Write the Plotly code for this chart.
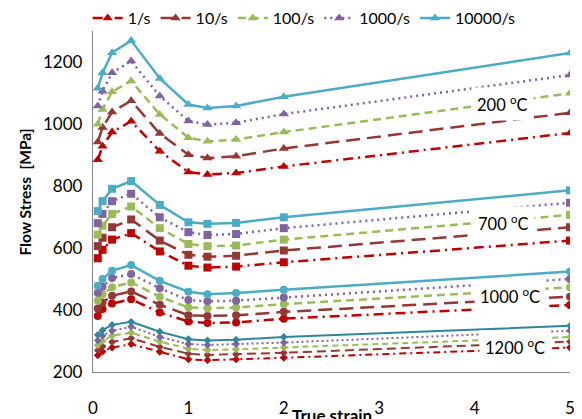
import plotly.graph_objects as go

# ---- data ----
strain = [0.05, 0.1, 0.2, 0.4, 0.7, 1.0, 1.2, 1.5, 2, 5]
rates = ["1/s", "10/s", "100/s", "1000/s", "10000/s"]
temps = ["200", "700", "1000", "1200"]

s200_1 = [885, 928, 974, 1009, 912, 845, 837, 842, 863, 971]
s200_10 = [942, 989, 1039, 1075, 969, 901, 890, 896, 921, 1036]
s200_100 = [999, 1047, 1104, 1139, 1031, 956, 944, 950, 974, 1099]
s200_1000 = [1058, 1106, 1165, 1203, 1090, 1010, 998, 1004, 1032, 1158]
s200_10000 = [1115, 1165, 1230, 1269, 1147, 1063, 1052, 1058, 1088, 1229]

s700_1 = [567, 594, 627, 648, 589, 543, 537, 540, 554, 624]
s700_10 = [606, 633, 667, 692, 624, 578, 572, 575, 592, 667]
s700_100 = [643, 672, 710, 734, 664, 613, 606, 608, 627, 707]
s700_1000 = [680, 710, 751, 775, 699, 651, 642, 645, 664, 746]
s700_10000 = [719, 751, 791, 816, 739, 683, 678, 681, 699, 786]

s1000_1 = [381, 403, 421, 435, 392, 363, 358, 360, 372, 416]
s1000_10 = [405, 424, 446, 460, 417, 383, 381, 383, 394, 443]
s1000_100 = [430, 451, 473, 489, 443, 408, 406, 408, 419, 473]
s1000_1000 = [455, 475, 503, 516, 470, 432, 428, 430, 440, 500]
s1000_10000 = [478, 500, 527, 545, 494, 459, 451, 455, 465, 524]

s1200_1 = [254, 266, 279, 290, 265, 241, 238, 241, 246, 279]
s1200_10 = [270, 282, 297, 309, 281, 259, 255, 257, 262, 298]
s1200_100 = [287, 300, 317, 327, 298, 275, 271, 273, 279, 313]
s1200_1000 = [302, 317, 333, 346, 313, 290, 287, 290, 295, 333]
s1200_10000 = [320, 335, 352, 362, 330, 306, 302, 304, 313, 349]

series = {
    "200": [s200_1, s200_10, s200_100, s200_1000, s200_10000],
    "700": [s700_1, s700_10, s700_100, s700_1000, s700_10000],
    "1000": [s1000_1, s1000_10, s1000_100, s1000_1000, s1000_10000],
    "1200": [s1200_1, s1200_10, s1200_100, s1200_1000, s1200_10000],
}

label_x = [4.29, 4.30, 4.37, 4.42]
label_y = [1064, 682, 446, 281]

y_ticks = [200, 400, 600, 800, 1000, 1200]
x_ticks = [0, 1, 2, 3, 4, 5]

# ---- styles ----
colors = ["#C00000", "#953735", "#9BBB59", "#8064A2", "#4BACC6"]
dashes = ["10px,5px,2px,5px", "14px,7px", "8px,5px", "2px,4px", "solid"]
dashes_small = ["7px,4px,2px,4px", "9px,5px", "6px,4px", "2px,3px", "solid"]
symbols = {"200": "triangle-up", "700": "square", "1000": "circle", "1200": "diamond"}
msize = {"200": 9, "700": 8, "1000": 8, "1200": 6}

FONT = "Lato, Carlito, Calibri, sans-serif"

fig = go.Figure()
for t in temps:
    for i, r in enumerate(rates):
        col = colors[i]
        if t == "1200" and i == 4:
            col = "#31859C"
        small = t == "1200"
        fig.add_trace(go.Scatter(
            x=strain, y=series[t][i], mode="lines+markers",
            name=r, legendgroup=r, showlegend=(t == "200"),
            line=dict(color=col, width=2 if small else 2.5,
                      dash=(dashes_small if small else dashes)[i]),
            marker=dict(symbol=symbols[t], size=msize[t], color=col),
        ))

for k, t in enumerate(temps):
    fig.add_annotation(
        x=label_x[k], y=label_y[k], xref="x", yref="y",
        xanchor="center", yanchor="middle",
        text=t + " <sup>o</sup>C", showarrow=False,
        font=dict(family=FONT, size=16.5, color="#000000"),
        bgcolor="white", borderpad=5,
    )

fig.add_annotation(
    x=0.5, y=-0.128, xref="paper", yref="paper", text="<b>True strain</b>",
    showarrow=False, xanchor="center", yanchor="middle",
    font=dict(family=FONT, size=17, color="#000000"),
)
fig.add_annotation(
    x=-0.1426, y=0.529, xref="paper", yref="paper", text="<b>Flow Stress  [MPa]</b>",
    showarrow=False, textangle=-90, xanchor="center", yanchor="middle",
    font=dict(family=FONT, size=15.5, color="#000000"),
)

# page has an 8px body margin, so the figure is 8px smaller and offset
fig.update_layout(
    width=574, height=411,
    margin=dict(l=85, r=12, t=23, b=47, autoexpand=False),
    paper_bgcolor="white", plot_bgcolor="white",
    font=dict(family=FONT, size=17, color="#000000"),
    legend=dict(orientation="h", x=0.516, xanchor="center", xref="container",
                y=1.038, yanchor="middle", yref="paper",
                font=dict(family=FONT, size=16), itemwidth=30,
                bgcolor="rgba(0,0,0,0)", traceorder="normal"),
    showlegend=True,
)
fig.update_xaxes(range=[0, 5], tickvals=x_ticks, showgrid=False, zeroline=False,
                 showline=True, linecolor="#868686", linewidth=1.3,
                 ticks="", ticklabelstandoff=20, automargin=False,
                 tickfont=dict(family=FONT, size=17))
fig.update_yaxes(range=[200, 1300], tickvals=y_ticks, showgrid=False, zeroline=False,
                 showline=True, linecolor="#868686", linewidth=1.3,
                 ticks="", ticklabelstandoff=6, automargin=False,
                 tickfont=dict(family=FONT, size=17))

fig.write_html("out.html")
